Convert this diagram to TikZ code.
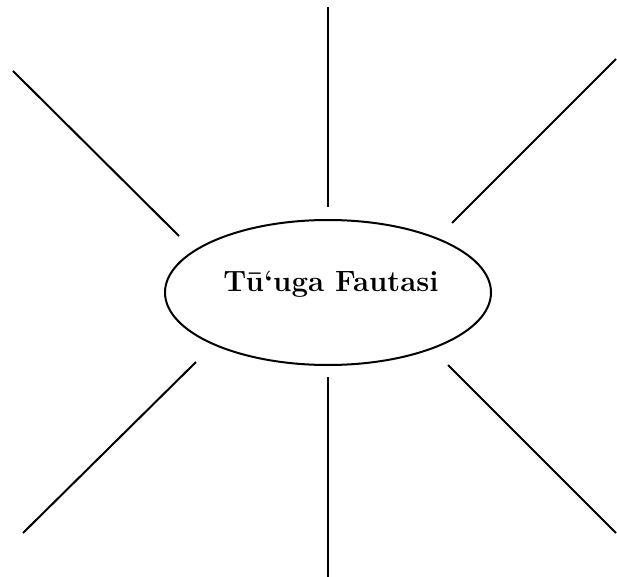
\documentclass[tikz,border=0pt]{standalone}
\usepackage{tikz}
\usetikzlibrary{shapes}
\begin{document}
\begin{tikzpicture}[x=0.75pt,y=-0.75pt,line width=1.5pt,
    hub/.style={draw,shape=ellipse,minimum width=244.5pt,minimum height=108.75pt,inner sep=0pt},
    title/.style={font=\bfseries\fontsize{22}{26}\selectfont}]
    \useasboundingbox (0,0) rectangle (617,577);

    \draw (328,292.5) node [hub] (hub) {} ;
    \draw (331,284) node [title] (title) {Tū‘uga Fautasi} ;

    \coordinate (n-out) at (327.5,7) ;
    \coordinate (n-in) at (327.5,207) ;
    \coordinate (nw-out) at (13,71) ;
    \coordinate (nw-in) at (179,236) ;
    \coordinate (ne-out) at (616,59) ;
    \coordinate (ne-in) at (452,223) ;
    \coordinate (sw-in) at (196,362) ;
    \coordinate (sw-out) at (23,533) ;
    \coordinate (s-in) at (328,377) ;
    \coordinate (s-out) at (328,577) ;
    \coordinate (se-in) at (448,365) ;
    \coordinate (se-out) at (616,533) ;

    \draw (n-out) -- (n-in);
    \draw (nw-out) -- (nw-in);
    \draw (ne-out) -- (ne-in);
    \draw (sw-in) -- (sw-out);
    \draw (s-in) -- (s-out);
    \draw (se-in) -- (se-out);
\end{tikzpicture}
\end{document}
